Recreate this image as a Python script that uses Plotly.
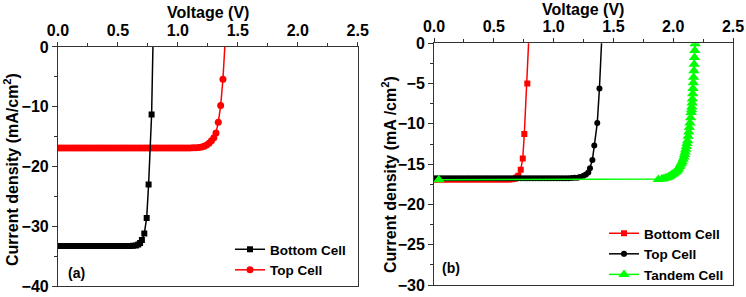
import plotly.graph_objects as go

# ---------------- Panel (a) ----------------
a_bottom_v = [0.000, 0.025, 0.050, 0.075, 0.100, 0.125, 0.150, 0.175, 0.200, 0.225,
              0.250, 0.275, 0.300, 0.325, 0.350, 0.375, 0.400, 0.425, 0.450, 0.475,
              0.500, 0.525, 0.550, 0.575, 0.600, 0.625, 0.650, 0.670, 0.685, 0.700,
              0.720, 0.740, 0.756, 0.781, 0.795]
a_bottom_j = [-33.3, -33.3, -33.3, -33.3, -33.3, -33.3, -33.3, -33.3, -33.3, -33.3,
              -33.3, -33.3, -33.3, -33.3, -33.3, -33.3, -33.3, -33.3, -33.3, -33.3,
              -33.3, -33.3, -33.3, -33.3, -33.3, -33.25, -33.2, -33.05, -32.8, -32.3,
              -31.2, -28.6, -23.0, -11.3, 3.0]

a_top_v = [0.000, 0.025, 0.050, 0.075, 0.100, 0.125, 0.150, 0.175, 0.200, 0.225,
           0.250, 0.275, 0.300, 0.325, 0.350, 0.375, 0.400, 0.425, 0.450, 0.475,
           0.500, 0.525, 0.550, 0.575, 0.600, 0.625, 0.650, 0.675, 0.700, 0.725,
           0.750, 0.775, 0.800, 0.825, 0.850, 0.875, 0.900, 0.925, 0.950, 0.975,
           1.000, 1.025, 1.050, 1.075, 1.100, 1.125, 1.150, 1.175, 1.200, 1.220,
           1.240, 1.260, 1.280, 1.300, 1.318, 1.337, 1.357, 1.376, 1.400]
a_top_j = [-16.9, -16.9, -16.9, -16.9, -16.9, -16.9, -16.9, -16.9, -16.9, -16.9,
           -16.9, -16.9, -16.9, -16.9, -16.9, -16.9, -16.9, -16.9, -16.9, -16.9,
           -16.9, -16.9, -16.9, -16.9, -16.9, -16.9, -16.9, -16.9, -16.9, -16.9,
           -16.9, -16.9, -16.9, -16.9, -16.9, -16.9, -16.9, -16.9, -16.9, -16.9,
           -16.9, -16.9, -16.9, -16.9, -16.9, -16.88, -16.85, -16.8, -16.75, -16.6,
           -16.4, -16.1, -15.7, -15.2, -14.4, -12.6, -9.8, -5.4, 3.0]

# ---------------- Panel (b) ----------------
b_bottom_v = [0.000, 0.025, 0.050, 0.075, 0.100, 0.125, 0.150, 0.175, 0.200, 0.225,
              0.250, 0.275, 0.300, 0.325, 0.350, 0.375, 0.400, 0.425, 0.450, 0.475,
              0.500, 0.525, 0.550, 0.575, 0.600, 0.625, 0.650, 0.675, 0.690, 0.705,
              0.725, 0.742, 0.755, 0.780, 0.800]
b_bottom_j = [-16.9, -16.9, -16.9, -16.9, -16.9, -16.9, -16.9, -16.9, -16.9, -16.9,
              -16.9, -16.9, -16.9, -16.9, -16.9, -16.9, -16.9, -16.9, -16.9, -16.9,
              -16.9, -16.9, -16.9, -16.9, -16.9, -16.9, -16.88, -16.8, -16.65, -16.45,
              -15.7, -14.3, -11.25, -5.0, 3.0]

b_top_v = [0.000, 0.025, 0.050, 0.075, 0.100, 0.125, 0.150, 0.175, 0.200, 0.225,
           0.250, 0.275, 0.300, 0.325, 0.350, 0.375, 0.400, 0.425, 0.450, 0.475,
           0.500, 0.525, 0.550, 0.575, 0.600, 0.625, 0.650, 0.675, 0.700, 0.725,
           0.750, 0.775, 0.800, 0.825, 0.850, 0.875, 0.900, 0.925, 0.950, 0.975,
           1.000, 1.025, 1.050, 1.075, 1.100, 1.125, 1.150, 1.175, 1.200, 1.220,
           1.250, 1.270, 1.290, 1.304, 1.324, 1.340, 1.365, 1.383, 1.410]
b_top_j = [-16.75, -16.75, -16.75, -16.75, -16.75, -16.75, -16.75, -16.75, -16.75, -16.75,
           -16.75, -16.75, -16.75, -16.75, -16.75, -16.75, -16.75, -16.75, -16.75, -16.75,
           -16.75, -16.75, -16.75, -16.75, -16.75, -16.75, -16.75, -16.75, -16.75, -16.75,
           -16.75, -16.75, -16.75, -16.75, -16.75, -16.75, -16.75, -16.75, -16.75, -16.75,
           -16.75, -16.75, -16.75, -16.75, -16.75, -16.74, -16.72, -16.7, -16.68, -16.6,
           -16.45, -16.3, -16.05, -15.5, -14.5, -12.7, -9.9, -5.6, 3.0]

b_tandem_v = [0.040, 1.875, 1.905, 1.920, 1.935, 1.950, 1.960, 1.970, 1.980, 1.990,
              2.000, 2.010, 2.020, 2.030, 2.038, 2.045, 2.053, 2.060, 2.068, 2.075,
              2.083, 2.090, 2.095, 2.100, 2.105, 2.110, 2.115, 2.120, 2.125, 2.130,
              2.135, 2.140, 2.145, 2.150, 2.153, 2.155, 2.158, 2.160, 2.163, 2.165,
              2.168, 2.170, 2.173, 2.175, 2.178, 2.180, 2.183, 2.185]
b_tandem_j = [-16.95, -16.9, -16.85, -16.8, -16.72, -16.65, -16.58, -16.5, -16.4, -16.3,
              -16.2, -16.1, -15.98, -15.85, -15.68, -15.5, -15.3, -15.1, -14.9, -14.7,
              -14.4, -14.1, -13.8, -13.5, -13.15, -12.8, -12.45, -12.1, -11.55, -11.0,
              -10.45, -9.9, -9.25, -8.6, -8.25, -7.9, -7.4, -6.9, -6.25, -5.6,
              -4.9, -4.2, -3.4, -2.6, -1.75, -0.9, -0.05, 0.8]

x_ticks = [0.0, 0.5, 1.0, 1.5, 2.0, 2.5]

W, H = 746, 297
FONT = "Liberation Sans, Arial, sans-serif"
RED = "#ff0000"
BLACK = "#000000"
GREEN = "#00ff00"

fig = go.Figure()

# panel (a)
fig.add_trace(go.Scatter(x=a_top_v, y=a_top_j, mode="lines+markers", name="Top Cell",
                         line=dict(color=RED, width=1.5),
                         marker=dict(symbol="circle", size=7, color=RED),
                         xaxis="x", yaxis="y", legend="legend", legendrank=2))
fig.add_trace(go.Scatter(x=a_bottom_v, y=a_bottom_j, mode="lines+markers", name="Bottom Cell",
                         line=dict(color=BLACK, width=1.5),
                         marker=dict(symbol="square", size=6, color=BLACK),
                         xaxis="x", yaxis="y", legend="legend", legendrank=1))

# panel (b)
fig.add_trace(go.Scatter(x=b_bottom_v, y=b_bottom_j, mode="lines+markers", name="Bottom Cell",
                         line=dict(color=RED, width=1.5),
                         marker=dict(symbol="square", size=6, color=RED),
                         xaxis="x2", yaxis="y2", legend="legend2"))
fig.add_trace(go.Scatter(x=b_top_v, y=b_top_j, mode="lines+markers", name="Top Cell",
                         line=dict(color=BLACK, width=1.5),
                         marker=dict(symbol="circle", size=6, color=BLACK),
                         xaxis="x2", yaxis="y2", legend="legend2"))
fig.add_trace(go.Scatter(x=b_tandem_v, y=b_tandem_j, mode="lines+markers", name="Tandem Cell",
                         line=dict(color=GREEN, width=1.5),
                         marker=dict(symbol="triangle-up", size=10, color=GREEN),
                         xaxis="x2", yaxis="y2", legend="legend2"))

tickfont = dict(family=FONT, size=16, color="black", weight="bold")

def xaxis_cfg(domain, anchor):
    return dict(domain=domain, anchor=anchor, side="top", range=[0, 2.5],
                tickvals=x_ticks, ticktext=[f"{v:.1f}" for v in x_ticks],
                ticks="outside", ticklen=4, tickwidth=1, tickcolor="#333",
                minor=dict(dtick=0.25, tick0=0, ticks="outside", ticklen=3, tickcolor="#333"),
                showline=True, linecolor="#333", linewidth=1, mirror=True,
                showgrid=False, zeroline=False, tickfont=tickfont, automargin=False)

def yaxis_cfg(domain, anchor, rng, dtick):
    return dict(domain=domain, anchor=anchor, range=rng, dtick=dtick, tick0=0,
                ticks="outside", ticklen=5, tickwidth=1, tickcolor="#333",
                minor=dict(dtick=dtick / 2, ticks="outside", ticklen=3, tickcolor="#333"),
                showline=True, linecolor="#333", linewidth=1, mirror=True,
                showgrid=False, zeroline=False, tickfont=tickfont, automargin=False)

legend_font = dict(family=FONT, size=13.5, color="black", weight="bold")

def txt(text, x, y, angle=0, size=16):
    return dict(text=text, x=x / W, y=1 - y / H, xref="paper", yref="paper",
                xanchor="center", yanchor="middle", textangle=angle, showarrow=False,
                font=dict(family=FONT, size=size, color="black", weight="bold"))

fig.update_layout(
    width=W, height=H,
    margin=dict(l=0, r=0, t=0, b=0, autoexpand=False),
    paper_bgcolor="white", plot_bgcolor="white",
    xaxis=xaxis_cfg([0.0777, 0.4795], "y"),
    yaxis=yaxis_cfg([0.037, 0.8418], "x", [-40, 0], 10),
    xaxis2=xaxis_cfg([0.5818, 0.9826], "y2"),
    yaxis2=yaxis_cfg([0.0404, 0.8542], "x2", [-30, 0], 5),
    legend=dict(x=230 / W, y=1 - 234 / H, xanchor="left", yanchor="top",
                bgcolor="rgba(0,0,0,0)", font=legend_font, traceorder="normal",
                borderwidth=0, tracegroupgap=0),
    legend2=dict(x=604 / W, y=1 - 218 / H, xanchor="left", yanchor="top",
                 bgcolor="rgba(0,0,0,0)", font=legend_font, traceorder="normal",
                 borderwidth=0, tracegroupgap=0),
    annotations=[
        txt("Voltage (V)", 208, 12),
        txt("Voltage (V)", 583, 10),
        txt("Current density (mA/cm<sup>2</sup>)", 11, 170, angle=-90),
        txt("Current density (mA /cm<sup>2</sup>)", 389, 175, angle=-90),
        txt("(a)", 76, 272.7, size=14),
        txt("(b)", 451, 268.3, size=14),
    ],
)

fig.write_html("out.html", config={"displayModeBar": False},
               post_script="document.body.style.margin='0';document.body.style.padding='0';")
